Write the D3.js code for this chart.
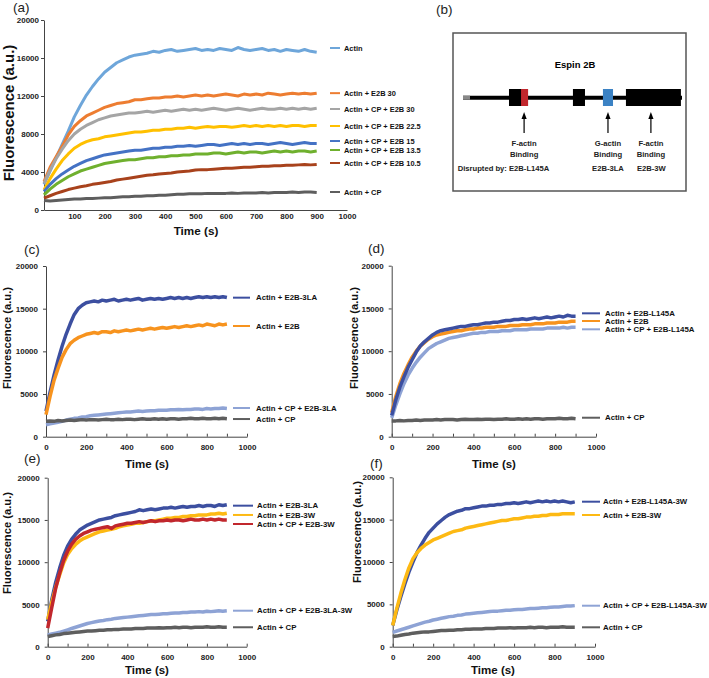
<!DOCTYPE html>
<html>
<head>
<meta charset="utf-8">
<script src="https://cdn.jsdelivr.net/npm/d3@7"></script>
<style>
  body { margin: 0; background: #fff; }
  text { font-family: "Liberation Sans", Arial, sans-serif; }
</style>
</head>
<body>
<div id="fig"></div>
<script>
// sampling times (s), shared by all traces
var times = [0,20,40,60,80,100,120,140,160,180,
  200,220,240,260,280,300,320,340,360,380,
  400,420,440,460,480,500,520,540,560,580,
  600,620,640,660,680,700,720,740,760,780,
  800,820,840,860,880,900];

var aYTicks = [0,4000,8000,12000,16000,20000];
var aXTicks = [100,200,300,400,500,600,700,800,900,1000];
var cYTicks = [0,5000,10000,15000,20000];
var cXTicks = [0,100,200,300,400,500,600,700,800,900,1000];

// ---- panel (a)
var aActin = [2700,4100,5500,6900,8300,9800,11000,12100,13000,13800,
  14500,15000,15500,15800,16100,16300,16400,16500,16700,16600,
  16800,16900,16700,16800,16900,17000,16800,16900,16800,17000,
  16900,16800,17100,16900,16800,16900,17000,16800,16900,16700,
  16900,16800,16700,16900,16700,16600];
var aE2B30 = [3000,4500,5600,6700,7900,8800,9400,9900,10200,10500,
  10800,11000,11200,11300,11400,11600,11600,11700,11800,11800,
  11900,11900,12000,11900,12000,12100,12000,12100,12000,12100,
  12200,12100,12000,12200,12100,12200,12100,12300,12200,12100,
  12200,12300,12200,12300,12200,12300];
var aCP30 = [2800,4200,5400,6400,7300,8000,8500,8900,9200,9500,
  9700,9900,10000,10100,10200,10200,10300,10400,10300,10400,
  10500,10400,10500,10600,10500,10600,10500,10600,10700,10600,
  10500,10600,10700,10600,10500,10600,10700,10600,10600,10700,
  10600,10700,10600,10700,10600,10700];
var aCP225 = [2100,3300,4300,5200,5900,6500,6900,7200,7400,7500,
  7700,7800,7900,8000,8100,8200,8200,8300,8400,8400,
  8500,8500,8600,8600,8700,8600,8700,8800,8700,8800,
  8800,8700,8800,8900,8800,8900,8800,8900,8800,8900,
  8800,8900,8900,8800,8900,8900];
var aCP15 = [1950,2700,3300,3800,4200,4600,4900,5200,5400,5600,
  5800,5900,6000,6100,6200,6300,6300,6400,6500,6500,
  6600,6600,6700,6700,6800,6700,6800,6900,6900,6800,
  6900,7000,6900,7000,6900,7000,7000,6900,7000,7100,
  7000,6900,7000,7100,7000,7000];
var aCP135 = [1600,2200,2700,3100,3500,3800,4100,4300,4500,4700,
  4900,5000,5100,5200,5300,5300,5400,5500,5500,5600,
  5600,5700,5700,5800,5800,5900,5900,5900,6000,6000,
  5900,6000,6100,6000,6100,6100,6000,6100,6200,6100,
  6200,6100,6200,6200,6100,6200];
var aCP105 = [1250,1500,1750,1950,2150,2300,2450,2550,2700,2800,
  2900,3000,3150,3250,3350,3450,3550,3650,3700,3800,
  3850,3900,4000,4050,4100,4200,4250,4250,4300,4350,
  4400,4400,4450,4500,4500,4550,4600,4600,4650,4650,
  4700,4700,4750,4800,4750,4800];
var aCP = [1000,950,1000,1050,1100,1150,1150,1200,1200,1250,
  1300,1300,1350,1400,1400,1450,1450,1500,1500,1550,
  1550,1600,1650,1650,1700,1700,1700,1750,1750,1750,
  1750,1800,1750,1800,1800,1800,1850,1800,1850,1850,
  1850,1900,1850,1900,1900,1850];
var aNames = ["Actin","Actin + E2B 30","Actin + CP + E2B 30","Actin + CP + E2B 22.5",
  "Actin + CP + E2B 15","Actin + CP + E2B 13.5","Actin + CP + E2B 10.5","Actin + CP"];
var aLabelAt = [17050,12300,10630,8840,7260,6315,4950,1895];

// ---- panel (c)
var c3LA = [3000,5200,7200,9000,10600,12000,13200,14300,15000,15400,
  15700,15800,15900,15800,16000,15900,16000,16100,15900,16000,
  16100,16000,16100,16200,16000,16100,16200,16100,16200,16100,
  16200,16300,16200,16300,16200,16300,16200,16300,16400,16300,
  16400,16300,16400,16300,16400,16300];
var cE2B = [2600,4700,6600,8000,9300,10200,10900,11300,11600,11800,
  12000,12100,12200,12100,12300,12300,12200,12400,12300,12400,
  12500,12400,12500,12600,12500,12600,12700,12600,12700,12800,
  12700,12800,12900,12800,12900,13000,12900,13000,13100,13000,
  13200,13100,13000,13200,13100,13200];
var cCP3LA = [1400,1500,1600,1700,1800,1950,2050,2150,2200,2300,
  2350,2450,2500,2550,2600,2650,2700,2750,2800,2850,
  2900,2900,2950,3000,2950,3000,3050,3050,3100,3100,
  3100,3150,3150,3200,3150,3200,3200,3250,3250,3200,
  3300,3250,3300,3300,3350,3300];
var cCP = [1800,1850,1800,1900,1850,1900,1950,1900,1950,2000,
  1950,2000,2000,1950,2000,2050,2000,2000,2050,2000,
  2050,2050,2000,2050,2100,2050,2050,2100,2050,2100,
  2050,2100,2100,2050,2100,2100,2150,2100,2100,2150,
  2100,2100,2150,2100,2150,2100];
var cNames = ["Actin + E2B-3LA","Actin + E2B","Actin + CP + E2B-3LA","Actin + CP"];
var cLabelAt = [16290,12970,3360,2070];

// ---- panel (d)
var dL145A = [2500,4300,5800,7000,8100,9000,9900,10600,11100,11500,
  11900,12200,12400,12500,12600,12700,12800,12900,12900,13000,
  13100,13100,13200,13300,13300,13400,13400,13500,13600,13600,
  13700,13700,13800,13700,13800,13900,13800,13900,14000,13900,
  14000,14100,14000,14200,14100,14100];
var dE2B = [2800,4700,6200,7400,8400,9300,10000,10600,11000,11400,
  11700,11900,12000,12100,12200,12300,12400,12400,12500,12600,
  12600,12700,12700,12800,12800,12800,12900,12900,12900,13000,
  13000,13000,13100,13100,13100,13200,13200,13200,13300,13300,
  13300,13400,13400,13400,13500,13500];
var dCPL145A = [2200,3700,5000,6200,7200,8000,8700,9300,9800,10300,
  10600,10900,11100,11300,11500,11600,11700,11800,11900,12000,
  12100,12100,12200,12200,12300,12300,12300,12400,12400,12400,
  12500,12500,12500,12500,12600,12600,12600,12600,12700,12700,
  12700,12700,12800,12700,12800,12800];
var dCP = [1850,1850,1900,1850,1900,1900,1950,1900,1950,1950,
  1950,2000,1950,2000,2000,2000,1950,2000,2050,2000,
  2000,2050,2000,2050,2050,2000,2050,2050,2100,2050,
  2050,2100,2050,2100,2050,2100,2100,2050,2100,2100,
  2100,2150,2100,2100,2150,2100];
var dNames = ["Actin + CP + E2B-L145A","Actin + E2B","Actin + E2B-L145A","Actin + CP"];
var dLabelAt = [12560,13530,14430,2220];

// ---- panel (e)
var e3LA = [3000,5500,7600,9300,10800,11900,12700,13300,13800,14100,
  14400,14600,14800,15000,15100,15200,15300,15500,15600,15700,
  15800,15900,16000,16200,16100,16200,16300,16200,16300,16400,
  16400,16500,16400,16500,16600,16500,16600,16600,16700,16600,
  16700,16700,16600,16800,16700,16800];
var e3W = [3200,5200,7000,8500,9900,10900,11600,12100,12500,12800,
  13000,13200,13400,13600,13700,13800,13900,14000,14200,14300,
  14400,14500,14600,14600,14700,14800,14900,14900,15000,15100,
  15200,15200,15300,15300,15400,15400,15500,15500,15600,15600,
  15600,15700,15700,15800,15700,15800];
var eCP3W = [2200,4600,6900,8700,10200,11300,12100,12700,13100,13400,
  13600,13800,13900,14000,14100,14200,14000,14300,14400,14500,
  14600,14600,14700,14800,14700,14800,14900,14800,14900,14900,
  15000,14900,15000,15000,14900,15000,15100,15000,15000,15100,
  15000,15100,15000,15100,15000,15000];
var eCP3LA3W = [1400,1500,1600,1700,1850,2000,2150,2300,2450,2600,
  2750,2850,2950,3050,3100,3200,3250,3350,3400,3450,
  3500,3550,3600,3650,3700,3750,3800,3800,3850,3900,
  3900,3950,4000,4000,4050,4050,4100,4100,4150,4100,
  4200,4150,4200,4250,4200,4250];
var eCP = [1200,1300,1400,1450,1550,1600,1650,1700,1750,1800,
  1850,1850,1900,1950,1950,2000,2000,2050,2050,2100,
  2100,2100,2150,2150,2150,2200,2200,2200,2250,2200,
  2250,2250,2300,2250,2300,2300,2250,2300,2300,2300,
  2350,2300,2300,2350,2300,2300];
var eNames = ["Actin + E2B-3LA","Actin + E2B-3W","Actin + CP + E2B-3W","Actin + CP + E2B-3LA-3W","Actin + CP"];
var eLabelAt = [16690,15590,14520,4260,2300];

// ---- panel (f)
var fL145A3W = [2500,4300,5900,7400,8800,10000,11100,12000,12800,13500,
  14000,14500,14900,15300,15600,15800,16000,16100,16300,16300,
  16400,16500,16600,16600,16700,16700,16800,16800,16900,16900,
  17000,16900,17000,17100,17000,17100,17200,17100,17200,17100,
  17200,17100,17200,17100,17000,17100];
var f3W = [2500,4500,6300,7900,9300,10400,11100,11600,12000,12300,
  12600,12800,13000,13200,13400,13600,13700,13800,14000,14100,
  14200,14300,14400,14500,14600,14700,14800,14900,14900,15000,
  15100,15100,15200,15300,15300,15400,15400,15500,15500,15600,
  15600,15600,15700,15700,15700,15700];
var fCPL145A3W = [1700,1850,2000,2150,2300,2450,2600,2750,2900,3000,
  3150,3250,3350,3450,3550,3600,3700,3750,3850,3900,
  3950,4000,4050,4100,4150,4200,4200,4250,4300,4300,
  4350,4400,4400,4450,4500,4500,4550,4600,4600,4650,
  4700,4700,4750,4800,4800,4850];
var fCP = [1200,1250,1350,1450,1500,1600,1650,1700,1750,1750,
  1800,1850,1900,1900,1950,1950,2000,2000,2050,2050,
  2100,2100,2100,2150,2150,2150,2200,2200,2200,2250,
  2200,2250,2250,2250,2300,2250,2300,2300,2250,2300,
  2300,2300,2350,2300,2300,2300];
var fNames = ["Actin + E2B-L145A-3W","Actin + E2B-3W","Actin + CP + E2B-L145A-3W","Actin + CP"];
var fLabelAt = [17120,15550,4840,2290];

// ---- panel (b): Espin 2B schematic, positions in schematic units 0-100
var domains = [
  {start: 21.0, end: 29.7, fill: "#000"},
  {start: 26.5, end: 29.7, fill: "#c1272d"},
  {start: 50.2, end: 55.7, fill: "#000"},
  {start: 63.9, end: 68.5, fill: "#3b82c4"},
  {start: 74.4, end: 99.5, fill: "#000"}
];
var sites = [
  {pos: 27.9, lines: ["F-actin", "Binding"]},
  {pos: 66.2, lines: ["G-actin", "Binding"]},
  {pos: 85.8, lines: ["F-actin", "Binding"]}
];
var mutants = [
  {pos: 18.5, text: "Disrupted by: E2B-L145A"},
  {pos: 66.2, text: "E2B-3LA"},
  {pos: 86.0, text: "E2B-3W"}
];

// colours
var lightBlue = "#6ea6da", orange = "#ed7d31", gray = "#a5a5a5", yellow = "#ffc000",
    blue = "#4472c4", green = "#6fb02e", brown = "#a8421c", darkGray = "#5e5e5e";
var navy = "#3c4fa0", orange2 = "#f7931e", pale = "#8ea3d5", gold = "#fdb913", red = "#c1272d";

var svg = d3.select("#fig").append("svg")
  .attr("width", 709)
  .attr("height", 678);

// the original labels use a narrow typeface: use Liberation Sans Narrow when it is
// installed, otherwise squeeze the regular face to the same width
var REG = "'Liberation Sans', Arial, sans-serif";
var NARROW = "'Liberation Sans Narrow', 'Liberation Sans', Arial, sans-serif";
function condense(sel, factor) {
  sel.each(function() {
    var t = d3.select(this).style("font-family", REG);
    var w0 = this.getComputedTextLength();
    t.style("font-family", NARROW);
    var w1 = this.getComputedTextLength();
    if (w1 > w0 * factor * 1.02) {
      t.style("font-family", REG);
      var s = parseFloat(t.style("font-size"));
      // shrink the size so the text keeps the wanted width
      t.style("font-size", (s * factor) + "px");
    }
  });
}

function makeSeries(vals, names, labelAt, colors) {
  return vals.map(function(v, i) {
    return {values: v, name: names[i], labelAt: labelAt[i], color: colors[i]};
  });
}

var panels = [
  {letter: "(a)", lx: 13, ly: 12, x0: 44, x1: 347, y0: 210, y1: 20,
   yTicks: aYTicks, xTicks: aXTicks, xMinor: false, lw: 3,
   legX: [330, 340], legT: 344, legFont: 9.3,
   yTitle: [9, 113, 15], xTitle: [196, 235, 11.7],
   series: makeSeries([aActin, aE2B30, aCP30, aCP225, aCP15, aCP135, aCP105, aCP], aNames, aLabelAt,
     [lightBlue, orange, gray, yellow, blue, green, brown, darkGray])},
  {letter: "(c)", lx: 24, ly: 254, x0: 46, x1: 247, y0: 436.7, y1: 266,
   yTicks: cYTicks, xTicks: cXTicks, xMinor: true, lw: 3.5,
   legX: [233, 250], legT: 256, legFont: 9.8,
   yTitle: [7, 338, 11.2], xTitle: [147, 468, 11.5],
   series: makeSeries([c3LA, cE2B, cCP3LA, cCP], cNames, cLabelAt, [navy, orange2, pale, darkGray])},
  {letter: "(d)", lx: 368, ly: 253, x0: 391.7, x1: 596, y0: 436.7, y1: 265.7,
   yTicks: cYTicks, xTicks: cXTicks, xMinor: true, lw: 3.5,
   legX: [582, 600], legT: 605, legFont: 9.8,
   yTitle: [354, 338, 11.2], xTitle: [494, 468, 11.5],
   series: makeSeries([dCPL145A, dE2B, dL145A, dCP], dNames, dLabelAt, [pale, orange2, navy, darkGray])},
  {letter: "(e)", lx: 24, ly: 463, x0: 47.7, x1: 246.7, y0: 646.7, y1: 477.7,
   yTicks: cYTicks, xTicks: cXTicks, xMinor: true, lw: 3.5,
   legX: [233, 253], legT: 257, legFont: 9.8,
   yTitle: [7, 543, 11.2], xTitle: [147, 674, 11.5],
   series: makeSeries([e3LA, e3W, eCP3W, eCP3LA3W, eCP], eNames, eLabelAt, [navy, gold, red, pale, darkGray])},
  {letter: "(f)", lx: 370, ly: 468, x0: 392.7, x1: 595, y0: 646.7, y1: 477.3,
   yTicks: cYTicks, xTicks: cXTicks, xMinor: true, lw: 3.5,
   legX: [582, 600], legT: 603, legFont: 9.8,
   yTitle: [357, 532, 11.2], xTitle: [493, 674, 11.5],
   series: makeSeries([fL145A3W, f3W, fCPL145A3W, fCP], fNames, fLabelAt, [navy, gold, pale, darkGray])}
];

function drawPanel(p) {
  var x = d3.scaleLinear().domain([0, 1000]).range([p.x0, p.x1]);
  var y = d3.scaleLinear().domain([0, 20000]).range([p.y0, p.y1]);
  var g = svg.append("g");

  // Y axis
  var yAxis = g.append("g")
    .attr("transform", "translate(" + x(0) + ",0)")
    .call(d3.axisLeft(y).tickValues(p.yTicks).tickSizeInner(3).tickSizeOuter(0)
      .tickPadding(p.xMinor ? 5 : 2).tickFormat(d3.format("d")));

  // X axis
  var xAxis = g.append("g")
    .attr("transform", "translate(0," + y(0) + ")")
    .call(d3.axisBottom(x).tickValues(p.xTicks)
      .tickSizeInner(p.xMinor ? -3 : 0).tickSizeOuter(0)
      .tickPadding(p.xMinor ? 8 : 3)
      .tickFormat(function(d) { return (!p.xMinor || d % 200 === 0) ? d : ""; }));

  [yAxis, xAxis].forEach(function(ax) {
    ax.select(".domain").attr("stroke", "#444").attr("stroke-width", 1);
    ax.selectAll(".tick line").attr("stroke", "#444");
    ax.selectAll("text")
      .style("font-family", REG)
      .style("font-size", "8px")
      .style("font-weight", "bold")
      .attr("fill", "#222");
  });

  // traces
  var line = d3.line()
    .x(function(d, i) { return x(times[i]); })
    .y(function(d) { return y(d); });
  p.series.forEach(function(s) {
    g.append("path")
      .datum(s.values)
      .attr("d", line)
      .attr("fill", "none")
      .attr("stroke", s.color)
      .attr("stroke-width", p.lw)
      .attr("stroke-linejoin", "round");
  });

  // legend labels next to the traces
  p.series.forEach(function(s) {
    g.append("line")
      .attr("x1", p.legX[0]).attr("x2", p.legX[1])
      .attr("y1", y(s.labelAt)).attr("y2", y(s.labelAt))
      .attr("stroke", s.color)
      .attr("stroke-width", 2);
    g.append("text")
      .attr("x", p.legT)
      .attr("y", y(s.labelAt))
      .attr("dy", ".35em")
      .style("font-size", p.legFont + "px")
      .style("font-weight", "bold")
      .attr("fill", "#111")
      .text(s.name)
      .call(condense, 0.8);
  });

  // axis titles
  g.append("text")
    .attr("transform", "translate(" + p.yTitle[0] + "," + p.yTitle[1] + ") rotate(-90)")
    .attr("dy", ".35em")
    .style("text-anchor", "middle")
    .style("font-size", p.yTitle[2] + "px")
    .style("font-weight", "bold")
    .attr("fill", "#111")
    .text("Fluorescence (a.u.)");
  g.append("text")
    .attr("x", p.xTitle[0])
    .attr("y", p.xTitle[1])
    .style("text-anchor", "middle")
    .style("font-size", p.xTitle[2] + "px")
    .style("font-weight", "bold")
    .attr("fill", "#111")
    .text("Time (s)");

  // panel letter
  g.append("text")
    .attr("x", p.lx)
    .attr("y", p.ly)
    .style("font-size", "13.5px")
    .attr("fill", "#222")
    .text(p.letter);
}

panels.forEach(drawPanel);

// ---- panel (b)
var b = svg.append("g");
var u = d3.scaleLinear().domain([0, 100]).range([463, 682]);
var bbY = 97.7;

b.append("text").attr("x", 436).attr("y", 14)
  .style("font-size", "13.5px").attr("fill", "#222").text("(b)");

b.append("rect")
  .attr("x", 453).attr("y", 33).attr("width", 233).attr("height", 158)
  .attr("fill", "none").attr("stroke", "#555").attr("stroke-width", 1.5);

b.append("text").attr("x", 575).attr("y", 68)
  .style("text-anchor", "middle").style("font-size", "11px").style("font-weight", "bold")
  .text("Espin 2B")
  .call(condense, 0.86);

// backbone
b.append("line")
  .attr("x1", u(0)).attr("x2", u(100)).attr("y1", bbY).attr("y2", bbY)
  .attr("stroke", "#000").attr("stroke-width", 4);
b.append("line")
  .attr("x1", u(0)).attr("x2", u(3.2)).attr("y1", bbY).attr("y2", bbY)
  .attr("stroke", "#888").attr("stroke-width", 4);

b.selectAll("rect.dom")
  .data(domains)
  .enter()
  .append("rect")
    .attr("class", "dom")
    .attr("x", function(d) { return u(d.start); })
    .attr("width", function(d) { return u(d.end) - u(d.start); })
    .attr("y", bbY - 8.7)
    .attr("height", 17)
    .attr("fill", function(d) { return d.fill; });

sites.forEach(function(s) {
  var cx = u(s.pos);
  b.append("line")
    .attr("x1", cx).attr("x2", cx).attr("y1", 133).attr("y2", 118)
    .attr("stroke", "#000").attr("stroke-width", 1.2);
  b.append("path")
    .attr("d", "M" + cx + ",112 L" + (cx - 2.6) + ",119 L" + (cx + 2.6) + ",119 Z")
    .attr("fill", "#000");
  s.lines.forEach(function(t, i) {
    b.append("text")
      .attr("x", cx).attr("y", 146 + i * 10.5)
      .style("text-anchor", "middle").style("font-size", "9px").style("font-weight", "bold")
      .attr("fill", "#222")
      .text(t)
      .call(condense, 0.85);
  });
});

mutants.forEach(function(m) {
  b.append("text")
    .attr("x", u(m.pos)).attr("y", 171)
    .style("text-anchor", "middle").style("font-size", "9px").style("font-weight", "bold")
    .attr("fill", "#222")
    .text(m.text)
    .call(condense, 0.85);
});
</script>
</body>
</html>
